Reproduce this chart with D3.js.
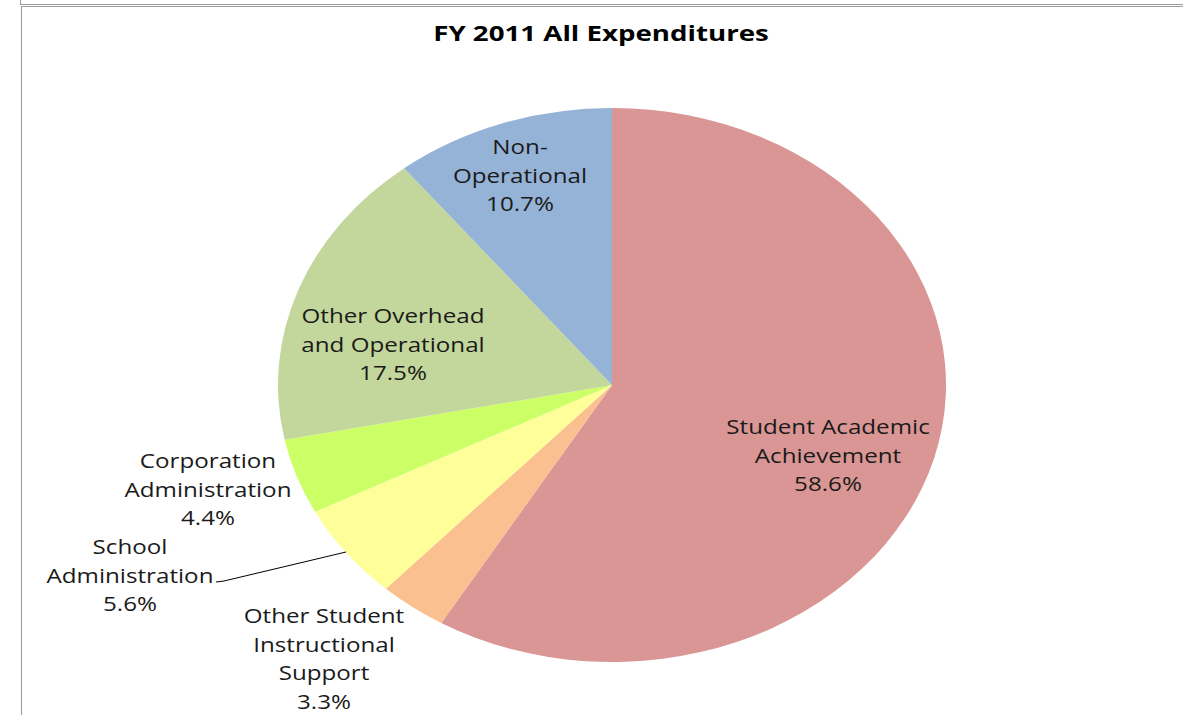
<!DOCTYPE html>
<html><head><meta charset="utf-8">
<script src="https://cdn.jsdelivr.net/npm/d3@7"></script>
<style>body{margin:0;background:#fff;} svg{display:block;}</style>
</head><body>
<svg id="chart" width="1183" height="715"></svg>
<script>
const title = "FY 2011 All Expenditures";
const categories = ["Student Academic Achievement","Other Student Instructional Support","School Administration","Corporation Administration","Other Overhead and Operational","Non-Operational"];
const values = [58.6, 3.3, 5.6, 4.4, 17.5, 10.7];
const colors = ["#D99694","#FAC090","#FFFF99","#CCFF66","#C3D69B","#95B3D7"];
const labelLines = [
  ["Student Academic","Achievement"],
  ["Other Student","Instructional","Support"],
  ["School","Administration"],
  ["Corporation","Administration"],
  ["Other Overhead","and Operational"],
  ["Non-","Operational"]
];
// label anchor positions (center x, first line center y)
const labelPos = [[828,427],[324,616],[130,547],[208,461],[393,316],[520,147]];

const svg = d3.select("#chart");
const W = 1183, H = 715;
const cx = 612, cy = 385, rx = 334, ry = 277;

// frame
const fr = svg.append("g").attr("stroke","#9a9a9a").attr("stroke-width",1).attr("fill","none");
fr.append("line").attr("x1",20.5).attr("y1",0).attr("x2",20.5).attr("y2",4);
fr.append("line").attr("x1",20).attr("y1",4.5).attr("x2",W).attr("y2",4.5);
fr.append("line").attr("x1",21).attr("y1",6.5).attr("x2",W).attr("y2",6.5);
fr.append("line").attr("x1",21.5).attr("y1",6).attr("x2",21.5).attr("y2",H);

svg.append("g").attr("transform","translate(601,41) scale(1.35,1)")
  .append("text").attr("x",0).attr("y",0).attr("text-anchor","middle")
  .attr("font-family","Open Sans, sans-serif").attr("font-weight","bold").attr("font-size",20.5)
  .attr("fill","#000").text(title);

const pie = d3.pie().sort(null).value(d=>d)(values);
const arc = d3.arc().innerRadius(0).outerRadius(ry);
const g = svg.append("g").attr("transform",`translate(${cx},${cy}) scale(${rx/ry},1)`);
g.selectAll("path").data(pie).join("path").attr("d",arc).attr("fill",(d,i)=>colors[i]);

// leader line for School Administration
svg.append("polyline").attr("points","216,582 224,581 346,552").attr("fill","none").attr("stroke","#000").attr("stroke-width",1);

const fmt = v => v.toFixed(1) + "%";
categories.forEach((c,i)=>{
  const lines = labelLines[i].concat([fmt(values[i])]);
  const [x,y] = labelPos[i];
  const t = svg.append("g").attr("transform",`translate(${x},${y}) scale(1.24,1)`)
    .append("text").attr("font-family","Open Sans, sans-serif").attr("font-size",19.5)
    .attr("fill","#1a1a1a").attr("text-anchor","middle");
  lines.forEach((l,j)=>{
    t.append("tspan").attr("x",0).attr("y",j*28.8).attr("dy","0.35em").text(l);
  });
});
</script>
</body></html>
